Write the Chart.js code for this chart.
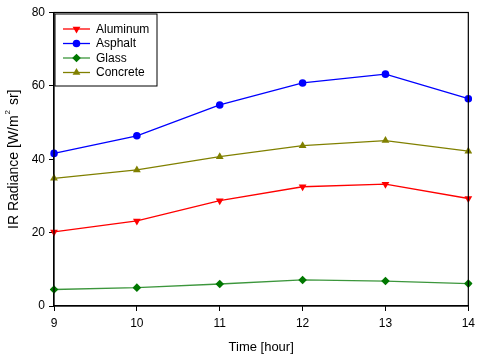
<!DOCTYPE html>
<html>
<head>
<meta charset="utf-8">
<script src="https://cdn.jsdelivr.net/npm/chart.js@4"></script>
<style>
  html, body { margin: 0; padding: 0; background: #fff; }
  #wrap { position: relative; width: 480px; height: 355px; }
</style>
</head>
<body>
<div id="wrap"><canvas id="irChart" width="480" height="355"></canvas></div>
<script>
const hours = ['9', '10', '11', '12', '13', '14'];
const aluminum = [20.2, 23.2, 28.7, 32.5, 33.2, 29.3];
const asphalt = [41.6, 46.4, 54.8, 60.8, 63.2, 56.5];
const glass = [4.5, 5.0, 6.0, 7.1, 6.8, 6.1];
const concrete = [34.8, 37.1, 40.7, 43.7, 45.1, 42.2];
const yTicks = [0, 20, 40, 60, 80];

const FONT = '"Liberation Sans", Arial, sans-serif';

function series(label, data, lineColor, markColor, style, radius, rotation) {
    return {
        label: label,
        data: data,
        borderColor: lineColor,
        backgroundColor: markColor,
        pointBackgroundColor: markColor,
        borderWidth: 1.3,
        pointStyle: style,
        rotation: rotation || 0,
        pointRadius: radius,
        pointBorderWidth: 0,
        pointHoverRadius: radius,
        tension: 0,
        fill: false
    };
}

// frame around the plot, legend box, and the y title with a real superscript
const framePlugin = {
    id: 'frame',
    afterDatasetsDraw(chart) {
        const ctx = chart.ctx;
        const a = chart.chartArea;
        ctx.save();
        ctx.strokeStyle = '#000';
        ctx.lineWidth = 1.2;
        ctx.strokeRect(a.left, a.top, a.right - a.left, a.bottom - a.top);

        const bx = a.left + 1, by = a.top + 1.5, bw = 102, bh = 72;
        ctx.lineWidth = 1;
        ctx.fillStyle = '#fff';
        ctx.fillRect(bx, by, bw, bh);
        ctx.strokeRect(bx, by, bw, bh);

        ctx.font = '12px ' + FONT;
        ctx.textBaseline = 'middle';
        chart.data.datasets.forEach((ds, i) => {
            const y = by + 15 + i * 14.5;
            ctx.strokeStyle = ds.borderColor;
            ctx.lineWidth = ds.borderWidth;
            ctx.beginPath();
            ctx.moveTo(bx + 8, y);
            ctx.lineTo(bx + 35, y);
            ctx.stroke();
            ctx.fillStyle = ds.pointBackgroundColor;
            Chart.helpers.drawPoint(ctx, {
                pointStyle: ds.pointStyle,
                rotation: ds.rotation,
                radius: ds.pointRadius,
                borderWidth: 0
            }, bx + 21.5, y);
            ctx.fillStyle = '#000';
            ctx.fillText(ds.label, bx + 41, y + 0.5);
        });

        // y axis title
        const parts = [
            { t: 'IR Radiance [W/m', size: 14, dy: 0 },
            { t: '2', size: 8, dy: -6 },
            { t: ' sr]', size: 14, dy: 0 }
        ];
        let total = 0;
        parts.forEach(p => {
            ctx.font = p.size + 'px ' + FONT;
            p.w = ctx.measureText(p.t).width + (p.size < 10 ? 2 : 0);
            total += p.w;
        });
        ctx.translate(14, (a.top + a.bottom) / 2);
        ctx.rotate(-Math.PI / 2);
        ctx.fillStyle = '#000';
        ctx.textBaseline = 'middle';
        let x = -total / 2;
        parts.forEach(p => {
            ctx.font = p.size + 'px ' + FONT;
            ctx.fillText(p.t, x + (p.size < 10 ? 1 : 0), p.dy);
            x += p.w;
        });
        ctx.restore();
    }
};

new Chart(document.getElementById('irChart'), {
    type: 'line',
    data: {
        labels: hours,
        datasets: [
            series('Aluminum', aluminum, '#ff0000', '#ff0000', 'triangle', 4.5, 180),
            series('Asphalt', asphalt, '#0000ff', '#0000ff', 'circle', 3.8),
            series('Glass', glass, '#3c963c', '#007800', 'rectRot', 4.3),
            series('Concrete', concrete, '#808000', '#808000', 'triangle', 4.5)
        ]
    },
    options: {
        responsive: false,
        animation: false,
        layout: { padding: { top: 12.5, right: 10.5, left: 0, bottom: 0 } },
        plugins: {
            legend: { display: false },
            tooltip: { enabled: false }
        },
        scales: {
            x: {
                offset: false,
                afterFit(s) { s.height = 49; },
                grid: { display: true, drawOnChartArea: false, color: '#000', tickLength: 5, lineWidth: 1 },
                border: { display: true, color: '#000', width: 1.2 },
                ticks: { color: '#000', font: { family: FONT, size: 12 }, padding: 5, maxRotation: 0 },
                title: {
                    display: true,
                    text: 'Time [hour]',
                    color: '#000',
                    font: { family: FONT, size: 13 },
                    padding: { top: 0, bottom: 0 }
                }
            },
            y: {
                min: 0,
                max: 80,
                afterFit(s) { s.width = 54; },
                afterBuildTicks(s) { s.ticks = yTicks.map(v => ({ value: v })); },
                grid: { display: true, drawOnChartArea: false, color: '#000', tickLength: 5, lineWidth: 1 },
                border: { display: true, color: '#000', width: 1.2 },
                ticks: { color: '#000', font: { family: FONT, size: 12 }, padding: 4 }
            }
        }
    },
    plugins: [framePlugin]
});
</script>
</body>
</html>
